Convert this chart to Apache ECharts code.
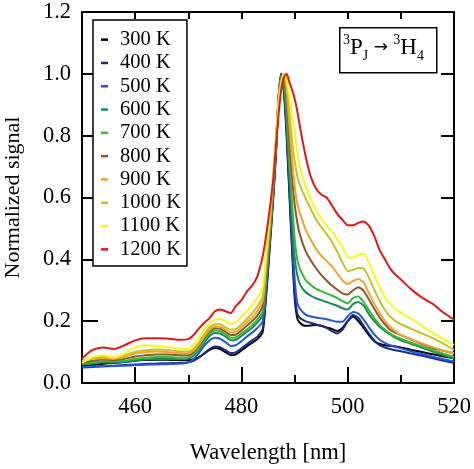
<!DOCTYPE html>
<html>
<head>
<meta charset="utf-8">
<script src="https://cdn.jsdelivr.net/npm/echarts@6/dist/echarts.min.js"></script>
<style>html,body{margin:0;padding:0;background:#fff}#c{width:474px;height:469px}</style>
</head>
<body>
<div id="c"></div>
<script>
const wavelengths = [450,452,454,456,458,460,462,464,466,468,470,
  471,472,473,474,475,476,477,478,479,480,481,482,483,484,
  484.5,485,485.5,486,486.5,487,487.5,488,488.5,489,489.5,490,490.5,491,
  492,493,494,495,496,497,498,499,500,501,502,503,504,505,506,507,508,509,510,
  512,514,516,518,520];

const seriesNames = ['300 K','400 K','500 K','600 K','700 K','800 K','900 K','1000 K','1100 K','1200 K'];
const seriesColors = ['#000000','#1c2c8c','#2255e0','#1a8a55','#33bb33','#8b5a2b','#f5a030','#c4c424','#f8f820','#e01818'];

const s300 = [0.055,0.058,0.062,0.065,0.068,0.072,0.074,0.075,0.075,0.074,0.074,
  0.077,0.084,0.095,0.107,0.113,0.11,0.1,0.09,0.093,0.105,0.118,0.13,0.142,0.165,
  0.25,0.36,0.48,0.6,0.74,0.92,1.0,0.94,0.8,0.62,0.44,0.28,0.21,0.195,
  0.185,0.186,0.188,0.185,0.18,0.175,0.168,0.178,0.2,0.215,0.2,0.178,0.155,0.135,0.126,0.122,0.12,0.118,0.115,
  0.107,0.1,0.093,0.086,0.08];
const s400 = [0.05,0.052,0.054,0.056,0.058,0.06,0.062,0.063,0.064,0.065,0.067,
  0.072,0.082,0.096,0.11,0.118,0.116,0.106,0.097,0.1,0.112,0.125,0.138,0.15,0.175,
  0.26,0.37,0.49,0.61,0.75,0.92,1.0,0.95,0.82,0.64,0.46,0.3,0.225,0.21,
  0.2,0.195,0.19,0.185,0.178,0.168,0.16,0.172,0.2,0.22,0.21,0.185,0.16,0.137,0.122,0.115,0.11,0.106,0.103,
  0.095,0.088,0.08,0.072,0.065];
const s500 = [0.052,0.053,0.054,0.055,0.056,0.058,0.059,0.06,0.061,0.062,0.066,
  0.078,0.097,0.12,0.138,0.146,0.143,0.132,0.12,0.123,0.135,0.15,0.163,0.178,0.2,
  0.28,0.39,0.5,0.62,0.76,0.93,1.0,0.96,0.84,0.67,0.5,0.34,0.26,0.24,
  0.222,0.215,0.212,0.209,0.206,0.202,0.198,0.198,0.215,0.23,0.225,0.205,0.18,0.157,0.14,0.13,0.122,0.117,0.112,
  0.102,0.094,0.085,0.077,0.07];
const s600 = [0.06,0.063,0.066,0.066,0.068,0.072,0.076,0.078,0.078,0.077,0.078,
  0.088,0.107,0.13,0.152,0.162,0.16,0.15,0.138,0.14,0.152,0.165,0.178,0.195,0.22,
  0.3,0.4,0.51,0.63,0.77,0.92,0.995,0.97,0.86,0.7,0.54,0.41,0.35,0.32,
  0.295,0.283,0.274,0.268,0.262,0.256,0.25,0.242,0.238,0.255,0.262,0.25,0.222,0.2,0.182,0.168,0.157,0.146,0.138,
  0.126,0.114,0.102,0.09,0.08];
const s700 = [0.062,0.066,0.07,0.07,0.072,0.078,0.082,0.084,0.084,0.082,0.083,
  0.093,0.112,0.138,0.16,0.17,0.168,0.158,0.146,0.148,0.16,0.173,0.187,0.205,0.232,
  0.31,0.41,0.52,0.64,0.77,0.92,0.99,0.985,0.88,0.73,0.59,0.47,0.4,0.37,
  0.335,0.318,0.305,0.297,0.29,0.283,0.275,0.265,0.257,0.275,0.28,0.262,0.235,0.21,0.188,0.172,0.16,0.15,0.143,
  0.13,0.118,0.106,0.095,0.085];
const s800 = [0.065,0.072,0.076,0.074,0.078,0.086,0.09,0.092,0.092,0.09,0.09,
  0.1,0.12,0.145,0.167,0.177,0.176,0.166,0.155,0.157,0.17,0.185,0.2,0.218,0.25,
  0.33,0.43,0.54,0.65,0.78,0.92,0.985,1.0,0.92,0.79,0.67,0.58,0.52,0.48,
  0.43,0.398,0.372,0.35,0.332,0.315,0.302,0.29,0.286,0.3,0.31,0.298,0.27,0.24,0.212,0.19,0.172,0.162,0.155,
  0.14,0.126,0.113,0.104,0.096];
const s900 = [0.07,0.078,0.08,0.078,0.085,0.095,0.1,0.102,0.1,0.097,0.096,
  0.105,0.125,0.15,0.172,0.183,0.182,0.172,0.163,0.166,0.18,0.196,0.212,0.232,0.265,
  0.345,0.445,0.55,0.66,0.78,0.92,0.98,1.0,0.95,0.84,0.73,0.64,0.58,0.55,
  0.5,0.465,0.435,0.412,0.395,0.378,0.355,0.332,0.32,0.33,0.336,0.325,0.29,0.256,0.226,0.2,0.182,0.167,0.156,
  0.141,0.128,0.116,0.105,0.096];
const s1000 = [0.072,0.08,0.085,0.082,0.09,0.1,0.106,0.108,0.107,0.103,0.102,
  0.11,0.132,0.158,0.18,0.19,0.19,0.18,0.172,0.175,0.19,0.207,0.225,0.247,0.28,
  0.36,0.46,0.56,0.67,0.79,0.91,0.975,1.0,0.97,0.88,0.79,0.72,0.67,0.64,
  0.6,0.565,0.53,0.505,0.482,0.458,0.425,0.39,0.362,0.366,0.372,0.37,0.34,0.302,0.266,0.236,0.215,0.2,0.19,
  0.175,0.16,0.145,0.127,0.107];
const s1100 = [0.065,0.085,0.09,0.082,0.095,0.115,0.122,0.12,0.117,0.112,0.11,
  0.122,0.147,0.172,0.193,0.205,0.208,0.2,0.192,0.196,0.215,0.232,0.25,0.275,0.31,
  0.39,0.48,0.58,0.68,0.79,0.9,0.97,1.0,0.985,0.93,0.87,0.81,0.75,0.7,
  0.64,0.595,0.56,0.533,0.51,0.49,0.465,0.44,0.408,0.405,0.414,0.418,0.39,0.348,0.31,0.277,0.256,0.24,0.227,
  0.207,0.185,0.162,0.142,0.123];
const s1200 = [0.08,0.107,0.115,0.11,0.122,0.138,0.145,0.145,0.144,0.14,0.142,
  0.155,0.176,0.195,0.21,0.232,0.238,0.232,0.226,0.25,0.268,0.295,0.315,0.345,0.41,
  0.46,0.52,0.585,0.66,0.77,0.87,0.95,0.99,1.0,0.975,0.95,0.92,0.88,0.83,
  0.74,0.67,0.63,0.61,0.6,0.575,0.548,0.528,0.51,0.51,0.518,0.522,0.508,0.475,0.43,0.4,0.37,0.35,0.335,
  0.302,0.276,0.256,0.228,0.205];

const yTicks = [0,0.2,0.4,0.6,0.8,1.0,1.2];
const xMajorTicks = [460,480,500,520];
const xMinorTicks = [470,490,510];
const xTopTicks = [460,470,480,490,500,510];

const allSeries = [s300,s400,s500,s600,s700,s800,s900,s1000,s1100,s1200];
const FONT = '"Liberation Serif","Times New Roman",serif';

const chart = echarts.init(document.getElementById('c'), null, {renderer:'canvas'});
const axisLineStyle = {color:'#000', width:2};

chart.setOption({
  backgroundColor:'#fff',
  animation:false,
  grid:{left:82,right:20,top:12,bottom:86, containLabel:false, outerBoundsMode:'none'},
  legend:{
    data:seriesNames,
    orient:'vertical',
    left:93, top:20,
    icon:'rect', itemWidth:7, itemHeight:2.5, itemGap:0,
    padding:[8,6,5,8],
    borderColor:'#000', borderWidth:1.5,
    backgroundColor:'#fff',
    textStyle:{fontFamily:FONT, fontSize:20.5, color:'#000', lineHeight:23.3, padding:[0,0,0,7]}
  },
  xAxis:[
    {type:'value', position:'bottom', min:450, max:520,
     axisLine:{show:true, lineStyle:axisLineStyle},
     axisTick:{show:true, inside:true, length:16, lineStyle:{color:'#000',width:2}, customValues:xMajorTicks},
     axisLabel:{fontFamily:FONT, fontSize:22.5, color:'#000', margin:13, customValues:xMajorTicks},
     splitLine:{show:false},
     name:'Wavelength [nm]', nameLocation:'middle', nameGap:59,
     nameTextStyle:{fontFamily:FONT, fontSize:22.5, color:'#000'}},
    {type:'value', position:'bottom', min:450, max:520, gridIndex:0,
     axisLine:{show:false},
     axisTick:{show:true, inside:true, length:8, lineStyle:{color:'#000',width:2}, customValues:xMinorTicks},
     axisLabel:{show:false}, splitLine:{show:false}},
    {type:'value', position:'top', min:450, max:520, gridIndex:0,
     axisLine:{show:true, lineStyle:axisLineStyle},
     axisTick:{show:true, inside:true, length:7, lineStyle:{color:'#000',width:2}, customValues:xTopTicks},
     axisLabel:{show:false}, splitLine:{show:false}}
  ],
  yAxis:[
    {type:'value', position:'left', min:0, max:1.2, interval:0.2,
     axisLine:{show:true, lineStyle:axisLineStyle},
     axisTick:{show:true, inside:true, length:16, lineStyle:{color:'#000',width:2}},
     axisLabel:{fontFamily:FONT, fontSize:22.5, color:'#000', margin:11, formatter:v=>v.toFixed(1)},
     splitLine:{show:false},
     name:'Normalized signal', nameLocation:'middle', nameGap:58,
     nameTextStyle:{fontFamily:FONT, fontSize:22, color:'#000'}},
    {type:'value', position:'right', min:0, max:1.2, interval:0.2,
     axisLine:{show:true, lineStyle:axisLineStyle},
     axisTick:{show:true, inside:true, length:13, lineStyle:{color:'#000',width:2}},
     axisLabel:{show:false}, splitLine:{show:false}}
  ],
  graphic:[
    {type:'rect', left:339, top:27, shape:{width:97, height:45},
     style:{fill:'#fff', stroke:'#000', lineWidth:1.5}, z:10},
    {type:'text', left:343, top:33, z:11,
     style:{
       text:'{sup|3}{n|P}{sub|J}{a| → }{sup|3}{n|H}{sub|4}',
       rich:{
         n:{fontFamily:FONT, fontSize:23, color:'#000', lineHeight:30},
         a:{fontFamily:'"DejaVu Sans",sans-serif', fontSize:17, color:'#000', lineHeight:30},
         sup:{fontFamily:FONT, fontSize:14, color:'#000', verticalAlign:'top', lineHeight:15},
         sub:{fontFamily:FONT, fontSize:14, color:'#000', verticalAlign:'bottom', lineHeight:15}
       }
     }}
  ],
  series: allSeries.map((arr,i)=>({
    name:seriesNames[i], type:'line', xAxisIndex:0, yAxisIndex:0,
    data: wavelengths.map((w,j)=>[w, arr[j]]),
    showSymbol:false, symbol:'none', smooth:0.2,
    lineStyle:{color:seriesColors[i], width:2},
    itemStyle:{color:seriesColors[i]},
    z:2+i
  }))
});
</script>
</body>
</html>
